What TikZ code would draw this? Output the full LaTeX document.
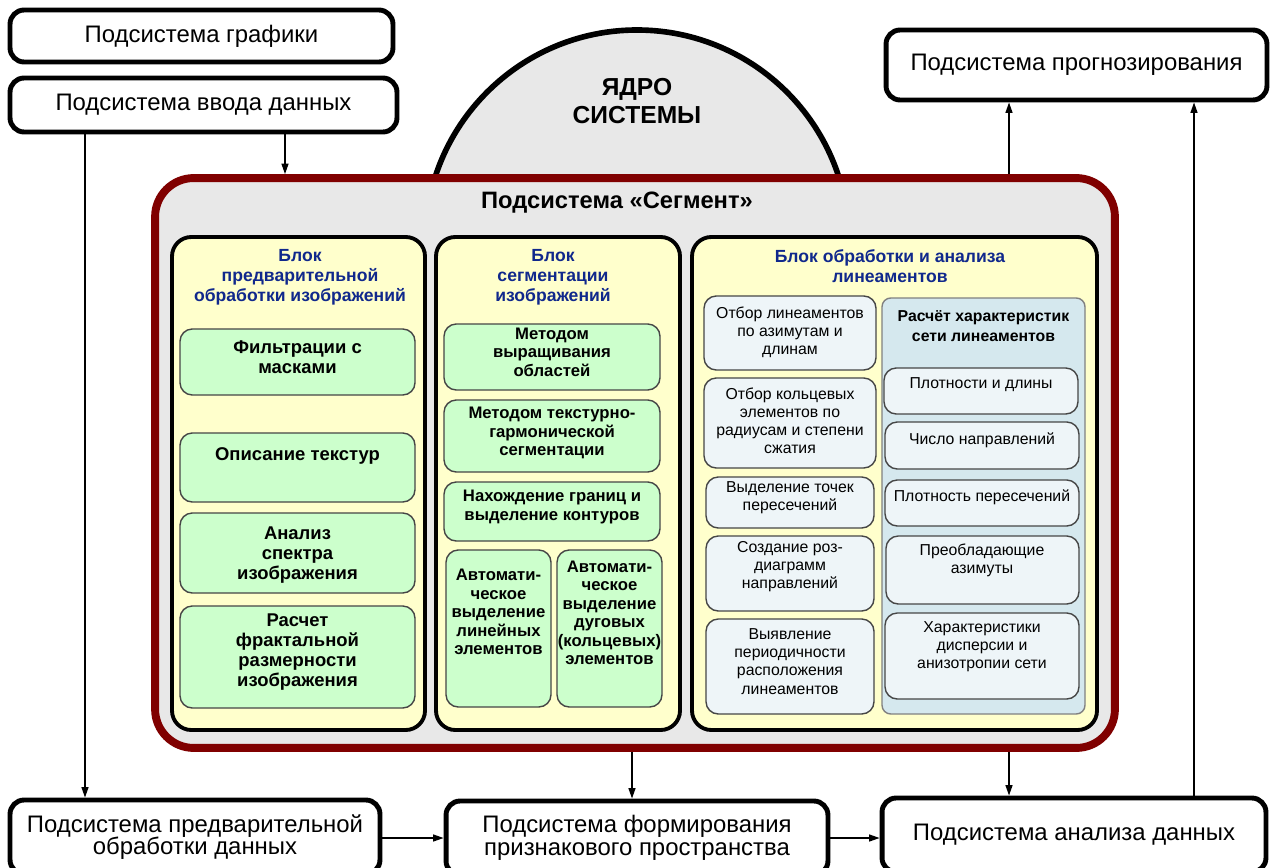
\documentclass[tikz,border=0pt]{standalone}
\usepackage{fontspec}
\setmainfont{Liberation Sans}
\usetikzlibrary{arrows.meta}
\definecolor{segred}{RGB}{128,0,0}
\definecolor{segfill}{RGB}{232,232,232}
\definecolor{blockfill}{RGB}{255,255,204}
\definecolor{greenfill}{RGB}{204,255,204}
\definecolor{linefill}{RGB}{238,245,248}
\definecolor{calcfill}{RGB}{213,232,238}
\definecolor{titleblue}{RGB}{16,40,140}
\definecolor{boxgray}{RGB}{70,70,70}
\tikzset{
	subsys/.style={draw, line width=2.8pt, rounded corners=8pt, fill=white, align=center, font=\fontsize{13.6}{12.8}\selectfont},
	core/.style={draw, line width=3.2pt, fill=segfill},
	coretext/.style={align=center, font=\bfseries\fontsize{14}{16}\selectfont},
	segbox/.style={draw=segred, line width=4.5pt, rounded corners=22pt, fill=segfill},
	segtitle/.style={font=\bfseries\fontsize{13.5}{15}\selectfont},
	block/.style={draw, line width=2.2pt, rounded corners=11pt, fill=blockfill},
	blocktitle/.style={align=center, text=titleblue, font=\bfseries\fontsize{10}{11.3}\selectfont},
	gbox/.style={draw=boxgray, line width=0.8pt, rounded corners=7pt, fill=greenfill},
	lbox/.style={draw=boxgray, line width=0.8pt, rounded corners=7pt, fill=linefill},
	calc/.style={draw=gray, line width=0.8pt, rounded corners=5pt, fill=calcfill},
	atext/.style={align=center, font=\bfseries\fontsize{10.5}{11.5}\selectfont},
	btext/.style={align=center, font=\bfseries\fontsize{9.5}{10.5}\selectfont},
	ltext/.style={align=center, font=\fontsize{9}{10.3}\selectfont},
	arr/.style={line width=0.8pt, -{Triangle[length=6pt,width=4pt]}}
}
\begin{document}
\begin{tikzpicture}[x=0.02cm, y=-0.02cm]
	\useasboundingbox[fill=white] (0,0) rectangle (1271,868);
	\node[subsys, minimum width=7.66cm, minimum height=1.04cm] (gra) at (201.5,36) {Подсистема графики};
	\node[subsys, minimum width=7.74cm, minimum height=1.08cm] (inp) at (203.5,105) {Подсистема ввода данных};
	\node[subsys, minimum width=7.62cm, minimum height=1.4cm] (prog) at (1076.5,65) {Подсистема прогнозирования};
	\node[subsys, minimum width=7.4cm, minimum height=1.48cm] (pre) at (195,837) {Подсистема предварительной\\обработки данных};
	\node[subsys, minimum width=7.64cm, minimum height=1.48cm] (feat) at (637,838) {Подсистема формирования\\признакового пространства};
	\node[subsys, minimum width=7.68cm, minimum height=1.48cm] (ana) at (1074,835) {Подсистема анализа данных};
	\draw[core] (637,242) circle [radius=212];
	\node[coretext] (corelbl) at (637,101) {ЯДРО\\СИСТЕМЫ};
	\node[segbox, minimum width=19.2cm, minimum height=11.4cm] (seg) at (635,463) {};
	\node[segtitle] (segt) at (617,203) {Подсистема «Сегмент»};
	\draw[block] (172,237) rectangle (425,730);
	\draw[block] (436,237) rectangle (680,730);
	\draw[block] (692,237) rectangle (1097,730);
	\node[blocktitle] (pret) at (300,277) {Блок\\предварительной\\обработки изображений};
	\node[blocktitle] (segmt) at (553,277) {Блок\\сегментации\\изображений};
	\node[blocktitle] (lint) at (890,266.5) {Блок обработки и анализа\\линеаментов};
	\draw[gbox] (180,329) rectangle (415,395);
	\draw[gbox] (180,433) rectangle (415,502);
	\draw[gbox] (180,513) rectangle (415,593);
	\draw[gbox] (180,606) rectangle (415,708);
	\node[atext] (filt) at (297.5,357) {Фильтрации с\\масками};
	\node[atext] (text) at (297.5,456) {Описание текстур};
	\node[atext] (spec) at (297.5,555) {Анализ\\спектра\\изображения};
	\node[atext] (frac) at (297.5,652) {Расчет\\фрактальной\\размерности\\изображения};
	\draw[gbox] (444,324) rectangle (660,390);
	\draw[gbox] (444,400) rectangle (660,472);
	\draw[gbox] (444,482) rectangle (660,541);
	\draw[gbox] (446,550) rectangle (551,707);
	\draw[gbox] (557,550) rectangle (662,707);
	\node[btext] (grow) at (552,352) {Методом\\выращивания\\областей};
	\node[btext] (harm) at (552,433) {Методом текстурно-\\гармонической\\сегментации};
	\node[btext] (cont) at (552,507) {Нахождение границ и\\выделение контуров};
	\node[btext] (linel) at (498.5,612) {Автомати-\\ческое\\выделение\\линейных\\элементов};
	\node[btext] (arcel) at (609.5,613) {Автомати-\\ческое\\выделение\\дуговых\\(кольцевых)\\элементов};
	\draw[calc] (882,298) rectangle (1085,714);
	\draw[lbox] (704,296) rectangle (876,370);
	\draw[lbox] (704,378) rectangle (876,468);
	\draw[lbox] (706,477) rectangle (874,528);
	\draw[lbox] (706,536) rectangle (874,611);
	\draw[lbox] (706,619) rectangle (874,714);
	\node[ltext] (azim) at (790,332.5) {Отбор линеаментов\\по азимутам и\\длинам};
	\node[ltext] (ring) at (790,421) {Отбор кольцевых\\элементов по\\радиусам и степени\\сжатия};
	\node[ltext] (cross) at (790,498) {Выделение точек\\пересечений};
	\node[ltext] (rose) at (790,566.5) {Создание роз-\\диаграмм\\направлений};
	\node[ltext] (period) at (790,661.5) {Выявление\\периодичности\\расположения\\линеаментов};
	\node[ltext, font=\bfseries\fontsize{9}{11}\selectfont] (calct) at (983.5,326) {Расчёт характеристик\\сети линеаментов};
	\draw[lbox] (884,368) rectangle (1078,414);
	\draw[lbox] (885,422) rectangle (1079,469);
	\draw[lbox] (885,480) rectangle (1079,526);
	\draw[lbox] (886,536) rectangle (1079,604);
	\draw[lbox] (885,613) rectangle (1079,699);
	\node[ltext] (dens) at (981,385) {Плотности и длины};
	\node[ltext] (dirs) at (982,440) {Число направлений};
	\node[ltext] (crossd) at (982,497) {Плотность пересечений};
	\node[ltext] (prev) at (982,560) {Преобладающие\\азимуты};
	\node[ltext] (disp) at (982,646.5) {Характеристики\\дисперсии и\\анизотропии сети};
	\coordinate (xa) at (85,0);
	\coordinate (xb) at (285,0);
	\coordinate (xc) at (632,0);
	\coordinate (xd) at (1009,0);
	\coordinate (xe) at (1194,0);
	\coordinate (yf) at (0,838);
	\draw[arr] (inp.south -| xa) -- (pre.north -| xa);
	\draw[arr] (inp.south -| xb) -- (seg.north -| xb);
	\draw[arr] (seg.south -| xc) -- (feat.north -| xc);
	\draw[arr] (seg.south -| xd) -- (ana.north -| xd);
	\draw[arr] (seg.north -| xd) -- (prog.south -| xd);
	\draw[arr] (ana.north -| xe) -- (prog.south -| xe);
	\draw[arr] (pre.east |- yf) -- (feat.west |- yf);
	\draw[arr] (feat.east |- yf) -- (ana.west |- yf);
\end{tikzpicture}
\end{document}
